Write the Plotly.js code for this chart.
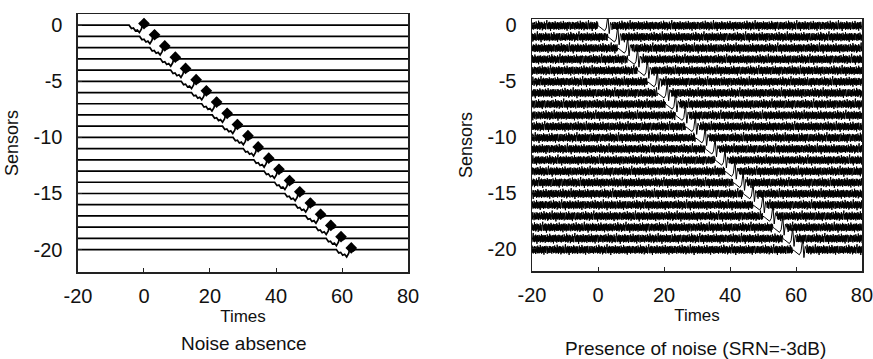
<!DOCTYPE html>
<html><head><meta charset="utf-8">
<script src="https://cdn.plot.ly/plotly-3.0.1.min.js"></script>
<style>html,body{margin:0;padding:0;background:#fff;}#chart{width:873px;height:359px;}</style>
</head><body><div id="chart"></div>
<script>
// ---- data ----
const sensors = [0,-1,-2,-3,-4,-5,-6,-7,-8,-9,-10,-11,-12,-13,-14,-15,-16,-17,-18,-19,-20];
// arrival time of the wave on each sensor (noise absence)
const leftDelays = [0,3.2,6.3,9.5,12.6,15.8,18.9,22,25.2,28.3,31.5,34.6,37.8,40.9,44.1,47.2,50.4,53.5,56.6,59.7,62.8];
// arrival time of the wave on each sensor (presence of noise)
const rightDelays = [3,6,9,12,15,18,21,23.5,26.5,29.5,32.5,35.5,38.5,41.5,44,47,50,53,56,59,62];
// wavelet shape (offset from arrival, amplitude)
const leftWaveOffsets = [-4.5,-3.8,-3.2,-2.6,-2.0,-1.4,-0.8,0,0.7,1.3];
const leftWaveAmps    = [0,-0.3,-0.25,-0.5,-0.42,-0.65,-0.35,0.55,-0.1,0];
const rightWaveOffsets = [-3,-2.5,-2,-1.5,-1,-0.5,0,0.4,0.8,1.2];
const rightWaveAmps    = [0,-0.1,-0.2,-0.3,-0.45,-0.2,0.95,-0.7,0.3,0];
// recorded noise samples
const noise = [0.31,-0.28,0.22,-0.35,0.27,-0.19,0.33,-0.3,0.12,-0.26,0.38,-0.22,0.25,-0.33,0.18,-0.29,0.45,-0.24,0.3,-0.36,
0.21,-0.27,0.34,-0.18,0.29,-0.41,0.26,-0.31,0.15,-0.25,0.36,-0.28,0.23,-0.34,0.3,-0.2,0.5,-0.27,0.19,-0.32,
0.28,-0.23,0.35,-0.3,0.24,-0.47,0.31,-0.26,0.17,-0.29,0.33,-0.21,0.27,-0.35,0.22,-0.3,0.4,-0.25,0.29,-0.33,
0.2,-0.28,0.32,-0.24,0.26,-0.38,0.3,-0.22,0.14,-0.31,0.37,-0.27,0.25,-0.32,0.21,-0.29,0.43,-0.23,0.28,-0.34,
0.19,-0.26,0.31,-0.3,0.24,-0.44,0.33,-0.21,0.27,-0.29,0.35,-0.25,0.2,-0.36,0.3,-0.24,0.16,-0.3,0.34,-0.27,0.29];
const xTicks = [-20,0,20,40,60,80];
const xTickLabels = ['-20','0','20','40','60','80'];
const yTicks = [0,-5,-10,-15,-20];
const yTickLabels = ['0','-5','-10','-15','-20'];
const xStart = -20, xEnd = 80, step = 0.125;

// ---- left: clean traces ----
const lx = [], ly = [];
sensors.forEach((s, k) => {
  const d = leftDelays[k];
  lx.push(xStart); ly.push(s);
  leftWaveOffsets.forEach((o, j) => { lx.push(d + o); ly.push(s + leftWaveAmps[j]); });
  lx.push(xEnd); ly.push(s);
  lx.push(null); ly.push(null);
});
const leftLines = {x: lx, y: ly, xaxis:'x', yaxis:'y', mode:'lines', line:{color:'#000', width:1.7}, hoverinfo:'skip'};
const leftPulses = {x: leftDelays, y: sensors.map(s => s + 0.15), xaxis:'x', yaxis:'y', mode:'markers',
  marker:{symbol:'diamond', size:9, color:'#000'}, hoverinfo:'skip'};

// ---- right: noisy traces ----
const rx = [], ry = [];
sensors.forEach((s, k) => {
  const d = rightDelays[k];
  const w0 = d + rightWaveOffsets[0], w1 = d + rightWaveOffsets[rightWaveOffsets.length - 1];
  let placed = false, i = 0;
  for (let x = xStart; x <= xEnd + 1e-9; x += step, i++) {
    if (x >= w0 && x <= w1) {
      if (!placed) {
        rightWaveOffsets.forEach((o, j) => { rx.push(d + o); ry.push(s - 0.1 + rightWaveAmps[j]); });
        placed = true;
      }
      continue;
    }
    rx.push(x); ry.push(s - 0.1 + noise[(i + 23 * k) % noise.length]);
  }
  rx.push(null); ry.push(null);
});
const rightLines = {x: rx, y: ry, xaxis:'x2', yaxis:'y2', mode:'lines', line:{color:'#000', width:1}, hoverinfo:'skip'};

const font = {family:'Liberation Sans, Arial, sans-serif', color:'#111'};
const axisBase = {showgrid:false, zeroline:false, showline:true, mirror:true, linecolor:'#222', linewidth:1.5,
  ticks:'inside', ticklen:4, tickcolor:'#222', tickfont:{...font, size:20}, ticklabeloverflow:'allow'};

const layout = {
  width:873, height:359, margin:{l:0,r:0,t:0,b:0}, paper_bgcolor:'#fff', plot_bgcolor:'#fff', showlegend:false,
  font: font,
  xaxis: {...axisBase, domain:[0.0893,0.4674], range:[-20,80], tickvals:xTicks, ticktext:xTickLabels, anchor:'y',
    ticklabelstandoff:5, title:{text:'Times', font:{...font, size:17}, standoff:2}},
  yaxis: {...axisBase, domain:[0.2423,0.961], range:[-22,1], tickvals:yTicks, ticktext:yTickLabels, anchor:'x',
    ticklabelstandoff:10, title:{text:'Sensors', font:{...font, size:18}, standoff:10}},
  xaxis2: {...axisBase, domain:[0.6094,0.9874], range:[-20,80], tickvals:xTicks, ticktext:xTickLabels, anchor:'y2',
    ticklabelstandoff:5, title:{text:'Times', font:{...font, size:17}, standoff:2}},
  yaxis2: {...axisBase, domain:[0.245,0.947], range:[-22,0.5], tickvals:yTicks, ticktext:yTickLabels, anchor:'x2',
    ticklabelstandoff:10, title:{text:'Sensors', font:{...font, size:18}, standoff:10}},
  annotations: [
    {text:'Noise absence', xref:'paper', yref:'paper', x:244/873, y:1-343/359, xanchor:'center', yanchor:'middle',
     showarrow:false, font:{...font, size:19}},
    {text:'Presence of noise (SRN=-3dB)', xref:'paper', yref:'paper', x:695/873, y:1-348/359, xanchor:'center', yanchor:'middle',
     showarrow:false, font:{...font, size:19}}
  ]
};
Plotly.newPlot('chart', [leftLines, leftPulses, rightLines], layout, {staticPlot:true, displayModeBar:false});
</script></body></html>
